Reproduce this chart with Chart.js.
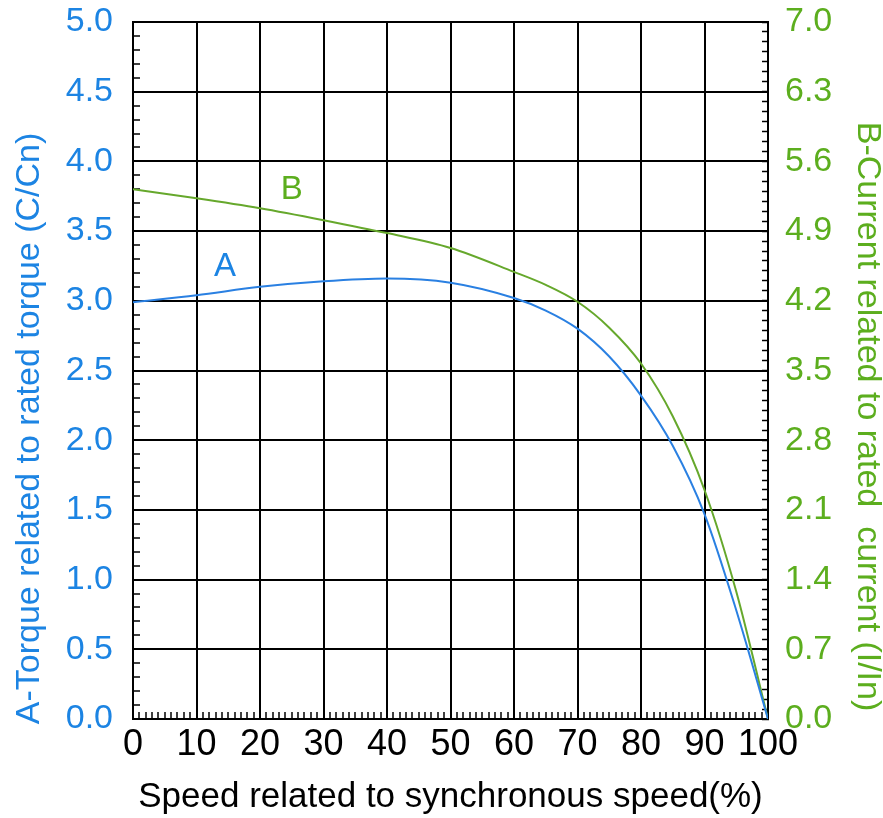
<!DOCTYPE html>
<html>
<head>
<meta charset="utf-8">
<script src="https://cdn.jsdelivr.net/npm/chart.js@4.4.1/dist/chart.umd.min.js"></script>
<style>
  html, body { margin: 0; padding: 0; background: #ffffff; }
  #wrap { width: 883px; height: 818px; }
</style>
</head>
<body>
<div id="wrap"><canvas id="c" width="883" height="818"></canvas></div>
<script>
// ---- data ----
const speed    = [0, 10, 20, 30, 40, 50, 60, 65, 70, 75, 80, 85, 90, 95, 100];
const torqueA  = [2.99, 3.04, 3.10, 3.14, 3.16, 3.13, 3.02, 2.93, 2.80, 2.60, 2.32, 1.96, 1.47, 0.78, 0];
const currentB = [5.32, 5.23, 5.13, 5.01, 4.88, 4.73, 4.49, 4.36, 4.19, 3.93, 3.57, 3.04, 2.30, 1.28, 0];

const xTitle  = 'Speed related to synchronous speed(%)';
const yTitleA = 'A-Torque related to rated torque (C/Cn)';
const yTitleB = 'B-Current related to rated  current (I/In)';
const curveNames = ['A', 'B'];
const nameAnchorA = [14.5, 3.24];   // [speed, torque]
const nameAnchorB = [25, 5.31];     // [speed, current]

const BLUE = '#1c84e3';
const GREEN = '#5cae1e';
const LINE_BLUE = '#2a80e2';
const LINE_GREEN = '#66a82c';
const FONT = "'Liberation Sans', Arial, sans-serif";

const near = (v, step) => Math.abs(v / step - Math.round(v / step)) < 1e-6;

function zeroPad(s) { s.paddingTop = 0; s.paddingBottom = 0; s.paddingLeft = 0; s.paddingRight = 0; }

const annot = {
  id: 'annot',
  afterDatasetsDraw(chart) {
    const {ctx, scales} = chart;
    ctx.save();
    ctx.textAlign = 'center';
    ctx.textBaseline = 'middle';
    ctx.font = '33px ' + FONT;
    ctx.fillStyle = BLUE;
    ctx.fillText(curveNames[0], scales.x.getPixelForValue(nameAnchorA[0]), scales.y.getPixelForValue(nameAnchorA[1]));
    ctx.fillStyle = GREEN;
    ctx.fillText(curveNames[1], scales.x.getPixelForValue(nameAnchorB[0]), scales.y1.getPixelForValue(nameAnchorB[1]));
    ctx.restore();
  },
  afterDraw(chart) {
    const {ctx, chartArea} = chart;
    const midY = (chartArea.top + chartArea.bottom) / 2;
    ctx.save();
    ctx.font = '34px ' + FONT;
    ctx.textAlign = 'center';
    ctx.textBaseline = 'middle';
    ctx.save();
    ctx.translate(30, midY + 58);
    ctx.rotate(-Math.PI / 2);
    ctx.fillStyle = BLUE;
    ctx.fillText(yTitleA, 0, 0);
    ctx.restore();
    ctx.save();
    ctx.translate(867, midY + 46);
    ctx.rotate(Math.PI / 2);
    ctx.fillStyle = GREEN;
    ctx.fillText(yTitleB, 0, 0);
    ctx.restore();
    ctx.restore();
  }
};

new Chart(document.getElementById('c'), {
  type: 'line',
  data: {
    datasets: [
      {
        label: 'A',
        data: speed.map((s, i) => ({x: s, y: torqueA[i]})),
        yAxisID: 'y',
        borderColor: LINE_BLUE,
        borderWidth: 2,
        pointRadius: 0,
        cubicInterpolationMode: 'monotone',
        fill: false
      },
      {
        label: 'B',
        data: speed.map((s, i) => ({x: s, y: currentB[i]})),
        yAxisID: 'y1',
        borderColor: LINE_GREEN,
        borderWidth: 2,
        pointRadius: 0,
        cubicInterpolationMode: 'monotone',
        fill: false
      }
    ]
  },
  options: {
    responsive: false,
    animation: false,
    events: [],
    layout: { padding: { top: 22, left: 0, right: 0, bottom: 0 } },
    plugins: { legend: { display: false }, tooltip: { enabled: false } },
    scales: {
      x: {
        type: 'linear',
        position: 'bottom',
        min: 0, max: 100,
        afterFit(s) { s.height = 99; zeroPad(s); },
        border: { display: true, color: '#000', width: 2 },
        grid: {
          color: c => (c.tick && near(c.tick.value, 10)) ? '#000' : 'rgba(0,0,0,0)',
          lineWidth: 2,
          drawTicks: true,
          tickLength: -7,
          tickColor: '#000',
          tickWidth: 1.5
        },
        ticks: {
          stepSize: 1,
          maxTicksLimit: 1000,
          autoSkip: false,
          maxRotation: 0,
          padding: 11,
          color: '#000',
          font: { family: FONT, size: 36 },
          callback: v => near(v, 10) ? String(Math.round(v)) : ''
        },
        title: {
          display: true,
          text: xTitle,
          color: '#000',
          font: { family: FONT, size: 35, lineHeight: 1 },
          padding: { top: 0, bottom: 3 }
        }
      },
      y: {
        type: 'linear',
        position: 'left',
        min: 0, max: 5,
        afterFit(s) { s.width = 133; zeroPad(s); },
        border: { display: true, color: '#000', width: 2 },
        grid: {
          color: c => (c.tick && near(c.tick.value, 0.5)) ? '#000' : 'rgba(0,0,0,0)',
          lineWidth: 2,
          drawTicks: true,
          tickLength: -7,
          tickColor: '#000',
          tickWidth: 1.5
        },
        ticks: {
          stepSize: 0.1,
          maxTicksLimit: 1000,
          autoSkip: false,
          padding: 27,
          color: BLUE,
          font: { family: FONT, size: 34 },
          callback: v => near(v, 0.5) ? v.toFixed(1) : ''
        },
        title: { display: false }
      },
      y1: {
        type: 'linear',
        position: 'right',
        min: 0, max: 7,
        afterFit(s) { s.width = 115; zeroPad(s); },
        border: { display: true, color: '#000', width: 2 },
        grid: {
          drawOnChartArea: false,
          drawTicks: true,
          tickLength: -6,
          tickColor: '#000',
          tickWidth: 1.5
        },
        ticks: {
          stepSize: 0.1,
          maxTicksLimit: 1000,
          autoSkip: false,
          padding: 23,
          color: GREEN,
          font: { family: FONT, size: 34 },
          callback: v => near(v, 0.7) ? v.toFixed(1) : ''
        },
        title: { display: false }
      }
    }
  },
  plugins: [annot]
});
</script>
</body>
</html>
